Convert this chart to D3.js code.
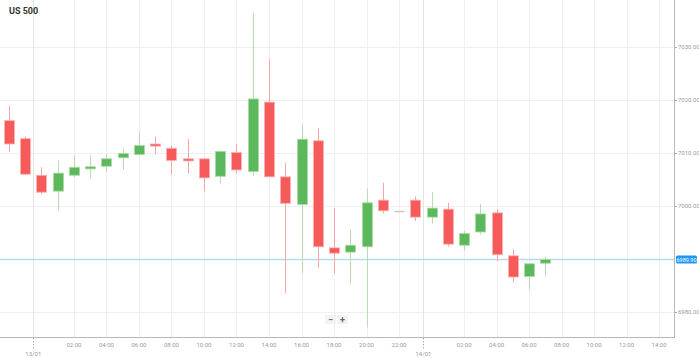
<!DOCTYPE html>
<html>
<head>
<meta charset="utf-8">
<script src="https://cdn.jsdelivr.net/npm/d3@7"></script>
<style>
  body { margin: 0; background: #fff; font-family: Roboto, "Noto Sans", sans-serif; }
  svg { display: block; }
</style>
</head>
<body>
<div id="chart_area"></div>
<script>
// hourly candles, US 500
const hours = [
  "2025-01-12T22:00", "2025-01-12T23:00",
  "2025-01-13T00:00", "2025-01-13T01:00", "2025-01-13T02:00", "2025-01-13T03:00",
  "2025-01-13T04:00", "2025-01-13T05:00", "2025-01-13T06:00", "2025-01-13T07:00",
  "2025-01-13T08:00", "2025-01-13T09:00", "2025-01-13T10:00", "2025-01-13T11:00",
  "2025-01-13T12:00", "2025-01-13T13:00", "2025-01-13T14:00", "2025-01-13T15:00",
  "2025-01-13T16:00", "2025-01-13T17:00", "2025-01-13T18:00", "2025-01-13T19:00",
  "2025-01-13T20:00", "2025-01-13T21:00", "2025-01-13T22:00", "2025-01-13T23:00",
  "2025-01-14T00:00", "2025-01-14T01:00", "2025-01-14T02:00", "2025-01-14T03:00",
  "2025-01-14T04:00", "2025-01-14T05:00", "2025-01-14T06:00", "2025-01-14T07:00"
];
const opens  = [7016.1, 7012.7, 7005.8, 7002.8, 7005.8, 7007.0, 7007.5, 7009.1, 7009.7, 7011.7,
                7010.9, 7008.9, 7008.9, 7005.6, 7010.1, 7006.5, 7019.6, 7005.5, 7000.3, 7012.3,
                6992.1, 6991.3, 6992.3, 7001.1, 6999.1, 7001.1, 6997.9, 6999.4, 6992.6, 6995.1,
                6998.7, 6990.6, 6986.7, 6989.2];
const highs  = [7018.9, 7013.1, 7007.3, 7008.6, 7009.6, 7009.6, 7009.8, 7010.9, 7014.2, 7013.1,
                7011.4, 7012.6, 7008.9, 7010.3, 7011.7, 7036.5, 7027.7, 7008.1, 7015.4, 7014.7,
                6999.6, 6995.5, 7003.3, 7004.4, 6999.1, 7001.8, 7002.6, 7000.6, 6995.3, 7000.4,
                6999.4, 6991.8, 6989.1, 6990.4];
const lows   = [7010.2, 7005.8, 7002.2, 6999.1, 7005.4, 7005.2, 7006.4, 7006.9, 7009.6, 7009.7,
                7005.9, 7006.2, 7002.8, 7004.2, 7006.1, 7005.7, 7005.5, 6983.6, 6987.3, 6988.4,
                6987.3, 6985.3, 6977.1, 6998.6, 6999.1, 6997.2, 6996.7, 6992.3, 6991.5, 6994.6,
                6989.6, 6985.5, 6984.2, 6986.7];
const closes = [7011.7, 7006.0, 7002.6, 7006.2, 7007.3, 7007.4, 7008.9, 7009.9, 7011.4, 7011.3,
                7008.6, 7008.5, 7005.3, 7010.3, 7006.8, 7020.2, 7005.5, 7000.5, 7012.6, 6992.3,
                6991.1, 6992.6, 7000.6, 6999.1, 6999.1, 6997.9, 6999.6, 6992.8, 6994.8, 6998.5,
                6990.8, 6986.6, 6989.1, 6989.9];

const hour_ticks = ["2025-01-13T02:00", "2025-01-13T04:00", "2025-01-13T06:00", "2025-01-13T08:00",
                    "2025-01-13T10:00", "2025-01-13T12:00", "2025-01-13T14:00", "2025-01-13T16:00",
                    "2025-01-13T18:00", "2025-01-13T20:00", "2025-01-13T22:00",
                    "2025-01-14T02:00", "2025-01-14T04:00", "2025-01-14T06:00", "2025-01-14T08:00",
                    "2025-01-14T10:00", "2025-01-14T12:00", "2025-01-14T14:00"];
// day markers sit just before midnight on this feed
const day_ticks = ["2025-01-12T23:30", "2025-01-13T23:30"];
const day_labels = ["13/01", "14/01"];
const price_ticks = [6980, 6990, 7000, 7010, 7020, 7030];
const current_price = 6989.9;
const title = "US 500";

const WIDTH = 699, HEIGHT = 358;
const PLOT_RIGHT = 674, PLOT_BOTTOM = 337;
const UP = "#5cb85c", DOWN = "#f75a5b";
const UP_WICK = "#b9ddb2", DOWN_WICK = "#f9a3a3";

const parse = d3.utcParse("%Y-%m-%dT%H:%M");
const fmt = d3.utcFormat("%H:%M");

let candles = hours.map(function (h, i) {
    return {time: parse(h), open: opens[i], high: highs[i], low: lows[i], close: closes[i]};
});

let x = d3.scaleUtc()
    .domain([parse("2025-01-12T21:27"), parse("2025-01-14T14:55")])
    .range([0, PLOT_RIGHT]);

let y = d3.scaleLinear()
    .domain([6975.28, 7038.87])
    .range([PLOT_BOTTOM, 0]);

let svg = d3.select("#chart_area")
    .append("svg")
    .attr("width", WIDTH)
    .attr("height", HEIGHT);

// grid
let grid = svg.append("g");
grid.selectAll("line.h")
    .data(price_ticks)
    .enter().append("line")
    .attr("x1", 0).attr("x2", PLOT_RIGHT)
    .attr("y1", d => Math.round(y(d)) + 0.5).attr("y2", d => Math.round(y(d)) + 0.5)
    .attr("stroke", "#f0f0f0");
grid.selectAll("line.v")
    .data(hour_ticks.map(parse))
    .enter().append("line")
    .attr("x1", d => Math.round(x(d)) + 0.5).attr("x2", d => Math.round(x(d)) + 0.5)
    .attr("y1", 0).attr("y2", PLOT_BOTTOM)
    .attr("stroke", "#f0f0f0");
grid.selectAll("line.d")
    .data(day_ticks.map(parse))
    .enter().append("line")
    .attr("x1", d => Math.round(x(d)) + 0.5).attr("x2", d => Math.round(x(d)) + 0.5)
    .attr("y1", 0).attr("y2", PLOT_BOTTOM)
    .attr("stroke", "#e4e4e4");

// current price line
svg.append("line")
    .attr("x1", 0).attr("x2", PLOT_RIGHT)
    .attr("y1", y(current_price)).attr("y2", y(current_price))
    .attr("stroke", "#b5dcf7")
    .attr("stroke-width", 1.5);

// candles
let body_w = 10;
let candle_g = svg.append("g")
    .selectAll("g")
    .data(candles)
    .enter().append("g");

candle_g.append("line")
    .attr("x1", d => Math.round(x(d.time)) + 0.5)
    .attr("x2", d => Math.round(x(d.time)) + 0.5)
    .attr("y1", d => y(d.high))
    .attr("y2", d => y(d.low))
    .attr("stroke", d => d.close > d.open ? UP_WICK : d.close < d.open ? DOWN_WICK : "#ccc")
    .attr("stroke-width", 1);

candle_g.append("rect")
    .attr("x", d => Math.round(x(d.time)) - body_w / 2 + 0.5)
    .attr("y", d => y(Math.max(d.open, d.close)))
    .attr("width", body_w)
    .attr("height", d => Math.max(1.5, Math.abs(y(d.open) - y(d.close))))
    .attr("fill", d => d.close > d.open ? UP : d.close < d.open ? DOWN : "#c8c8c8")
    .attr("stroke", d => d.close > d.open ? "#a9dba0" : d.close < d.open ? "#fbb0b0" : "none")
    .attr("stroke-width", 0.8);

// axes
let x_axis = svg.append("g")
    .attr("transform", "translate(0," + PLOT_BOTTOM + ")");
x_axis.append("line")
    .attr("x1", 0).attr("x2", PLOT_RIGHT + 1)
    .attr("y1", 0.5).attr("y2", 0.5)
    .attr("stroke", "#b8b8b8");
x_axis.selectAll("text.hour")
    .data(hour_ticks.map(parse))
    .enter().append("text")
    .attr("x", d => x(d))
    .attr("y", 10)
    .attr("text-anchor", "middle")
    .attr("font-size", 6)
    .attr("fill", "#9a9a9a")
    .text(d => fmt(d));
x_axis.selectAll("line.day")
    .data(day_ticks.map(parse))
    .enter().append("line")
    .attr("x1", d => Math.round(x(d)) + 0.5).attr("x2", d => Math.round(x(d)) + 0.5)
    .attr("y1", 1).attr("y2", 12)
    .attr("stroke", "#aaa")
    .attr("stroke-dasharray", "1.5,1.5");
x_axis.selectAll("text.day")
    .data(day_ticks)
    .enter().append("text")
    .attr("x", d => x(parse(d)))
    .attr("y", 19)
    .attr("text-anchor", "middle")
    .attr("font-size", 6)
    .attr("fill", "#9a9a9a")
    .text((d, i) => day_labels[i]);

let y_axis = svg.append("g")
    .attr("transform", "translate(" + PLOT_RIGHT + ",0)");
y_axis.append("line")
    .attr("x1", 0.5).attr("x2", 0.5)
    .attr("y1", 0).attr("y2", PLOT_BOTTOM + 1)
    .attr("stroke", "#b8b8b8");
y_axis.selectAll("g.tick")
    .data(price_ticks.filter(d => Math.abs(y(d) - y(current_price)) > 6))
    .enter().append("g")
    .each(function (d) {
        let g = d3.select(this);
        g.append("line")
            .attr("x1", 1).attr("x2", 3)
            .attr("y1", Math.round(y(d)) + 0.5).attr("y2", Math.round(y(d)) + 0.5)
            .attr("stroke", "#aaa");
        g.append("text")
            .attr("x", 4)
            .attr("y", y(d) + 2)
            .attr("font-size", 6)
            .attr("fill", "#9a9a9a")
            .text(d.toFixed(2));
    });

// current price label
svg.append("rect")
    .attr("x", PLOT_RIGHT + 2)
    .attr("y", y(current_price) - 4)
    .attr("width", 21)
    .attr("height", 8)
    .attr("rx", 1.5)
    .attr("fill", "#2196f3");
svg.append("text")
    .attr("x", PLOT_RIGHT + 12.5)
    .attr("y", y(current_price) + 2)
    .attr("text-anchor", "middle")
    .attr("font-size", 5.5)
    .attr("fill", "#fff")
    .text(current_price.toFixed(2));

// title
svg.append("text")
    .attr("x", 9)
    .attr("y", 14)
    .attr("font-size", 9)
    .attr("font-weight", "bold")
    .attr("fill", "#333")
    .text(title);

// zoom buttons
let zoom_btns = svg.append("g").attr("transform", "translate(325,315)");
["\u2212", "+"].forEach(function (s, i) {
    zoom_btns.append("rect")
        .attr("x", i * 12).attr("y", 0)
        .attr("width", 11).attr("height", 9)
        .attr("fill", "#f3f3f3");
    zoom_btns.append("text")
        .attr("x", i * 12 + 5.5).attr("y", 7.5)
        .attr("text-anchor", "middle")
        .attr("font-size", 9)
        .attr("font-weight", "bold")
        .attr("fill", "#666")
        .text(s);
});
</script>
</body>
</html>
